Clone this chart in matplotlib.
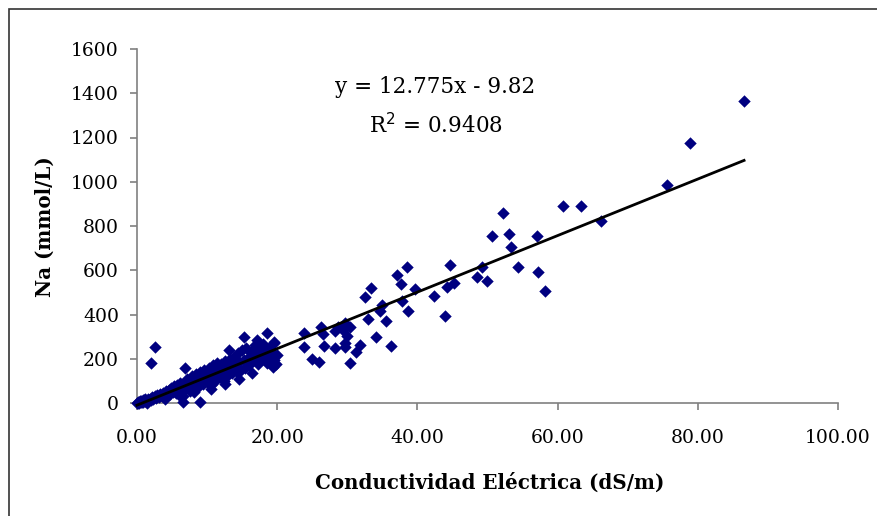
"""Scatter of Na vs conductividad electrica with linear trend line."""

import numpy as np
import matplotlib
matplotlib.use('Agg')
from matplotlib import pyplot as plt
from matplotlib.patches import Rectangle

# Conductividad electrica (dS/m) - low range cluster
ce_low = [0.1, 0.2, 0.3, 0.4, 0.5, 0.6, 0.7, 0.8, 0.9, 1.0, 1.1, 1.2, 1.3, 1.5,
          1.6, 1.8, 2.0, 2.1, 2.3, 2.5, 2.7, 2.9, 3.1, 3.3, 3.5, 3.7, 3.9, 4.1,
          4.3, 4.5, 4.7, 4.9, 5.1, 5.3, 5.5, 5.7, 5.9, 6.1, 6.3, 6.5, 6.8, 7.0,
          7.2, 7.4, 7.6, 7.8, 8.0, 8.2, 8.4, 8.6, 8.8, 9.0, 9.2, 9.4, 9.6, 9.8,
          10.0, 10.2, 10.4, 10.6, 10.8, 11.0, 11.2, 11.5, 11.7, 12.0, 12.2, 12.4,
          12.6, 12.8, 13.0, 13.2, 13.4, 13.6, 13.8, 14.0, 14.2, 14.4, 14.6, 14.8,
          15.0, 15.2, 15.4, 15.6, 15.8, 16.0, 16.2, 16.5, 16.8, 17.0, 17.2, 17.5,
          17.8, 18.0, 18.2, 18.5, 18.8, 19.0, 19.3, 19.6, 19.8, 20.0, 19.5,
          0.0, 0.3, 1.4, 4.0, 6.0, 8.1, 10.5, 12.5, 14.5, 16.4]
na_low = [2, 5, 3, 8, 4, 10, 6, 12, 5, 14, 9, 16, 11, 18,
          8, 20, 14, 25, 18, 30, 22, 35, 26, 40, 30, 45, 35, 55,
          38, 60, 42, 70, 50, 75, 45, 80, 58, 90, 62, 30, 95, 70,
          110, 80, 55, 120, 90, 60, 130, 100, 75, 140, 110, 85, 150, 120,
          95, 160, 125, 80, 170, 135, 105, 150, 120, 175, 140, 100,
          190, 160, 125, 200, 165, 135, 210, 170, 140, 225, 185, 150,
          240, 195, 160, 250, 205, 170, 230, 195, 260, 215, 175, 240,
          200, 265, 215, 180, 250, 205, 230, 195, 175, 215, 270,
          0, 0, 2, 20, 35, 50, 65, 85, 110, 135]

# scattered points
ce_out = [2.5, 2.0, 6.8, 15.3, 18.5, 17.1, 19.5, 13.1, 11.4, 9.0, 6.6, 19.4,
          23.8, 23.8, 26.3, 26.5, 26.7, 24.9, 25.9, 28.2, 28.3, 29.7, 30.4,
          29.4, 29.9, 29.7, 29.7, 31.8, 31.3, 30.4, 28.7,
          33.4, 32.5, 35.0, 34.7, 32.9, 35.5, 34.1, 36.2,
          38.5, 37.1, 37.6, 39.7, 37.8, 38.7,
          44.7, 44.2, 45.2, 42.4, 44.0,
          49.2, 48.5, 49.9, 50.7, 52.2, 53.1, 53.4, 57.1, 54.3, 57.2, 58.2,
          60.8, 63.3, 66.2, 75.6, 78.9, 86.6]
na_out = [255, 182, 157, 300, 315, 285, 277, 240, 182, 6, 6, 164,
          315, 254, 345, 310, 259, 197, 187, 325, 250, 360, 345,
          330, 303, 270, 255, 262, 232, 179, 345,
          518, 480, 443, 416, 378, 372, 300, 259,
          616, 578, 536, 514, 461, 417,
          624, 526, 541, 484, 393,
          616, 571, 550, 756, 857, 764, 704, 756, 615, 594, 506,
          890, 890, 823, 985, 1177, 1366]

x_ticks = [0, 20, 40, 60, 80, 100]
y_ticks = [0, 200, 400, 600, 800, 1000, 1200, 1400, 1600]

slope = 12.775
intercept = -9.82
r2 = 0.9408

ce = np.array(ce_low + ce_out)
na = np.array(na_low + na_out)

plt.rcParams['font.family'] = ['DejaVu Serif']

fig = plt.figure(figsize=(8.78, 5.16), dpi=100)
ax = fig.add_axes([137/878, 1 - 403/516, 701/878, 354/516])

ax.scatter(ce, na, marker='D', s=40, color='#000080', linewidths=0,
           zorder=3, clip_on=False)

# trend line over data range
xl = np.array([0, ce.max()])
ax.plot(xl, slope*xl + intercept, color='black', lw=2.0, zorder=4,
        clip_on=False)

ax.set_xlim(0, 100)
ax.set_ylim(0, 1600)
ax.set_xticks(x_ticks)
ax.set_xticklabels(['%.2f' % v for v in x_ticks])
ax.set_yticks(y_ticks)
for s in ['top', 'right']:
    ax.spines[s].set_visible(False)
for s in ['left', 'bottom']:
    ax.spines[s].set_color('#808080')
    ax.spines[s].set_linewidth(1.2)
ax.tick_params(direction='out', length=5, width=1.2, color='#808080',
               labelsize=13.5, labelcolor='black')
ax.tick_params(axis='x', pad=14)
ax.tick_params(axis='y', pad=8)

ax.set_xlabel('Conductividad Eléctrica (dS/m)', fontsize=14.3, fontweight='bold')
ax.set_ylabel('Na (mmol/L)', fontsize=14.3, fontweight='bold')
ax.xaxis.set_label_coords(490/878, 1 - 483/516, transform=fig.transFigure)
ax.yaxis.set_label_coords(45/878, 1 - 227/516, transform=fig.transFigure)
ax.xaxis.label.set_va('center')
ax.yaxis.label.set_va('center')

fig.text(435/878, 1 - 87/516, 'y = 12.775x - 9.82', fontsize=15.5,
         ha='center', va='center')
fig.text(436/878, 1 - 126/516, 'R$^2$ = %.4f' % r2, fontsize=15.5,
         ha='center', va='center')

# outer chart frame (cropped at right and bottom)
fig.patches.append(Rectangle((9/878, -0.1), 1.2, 1 - 9/516 + 0.1,
                             transform=fig.transFigure, fill=False,
                             edgecolor='#333333', lw=1.2))

fig.savefig('out.png', dpi=100)
